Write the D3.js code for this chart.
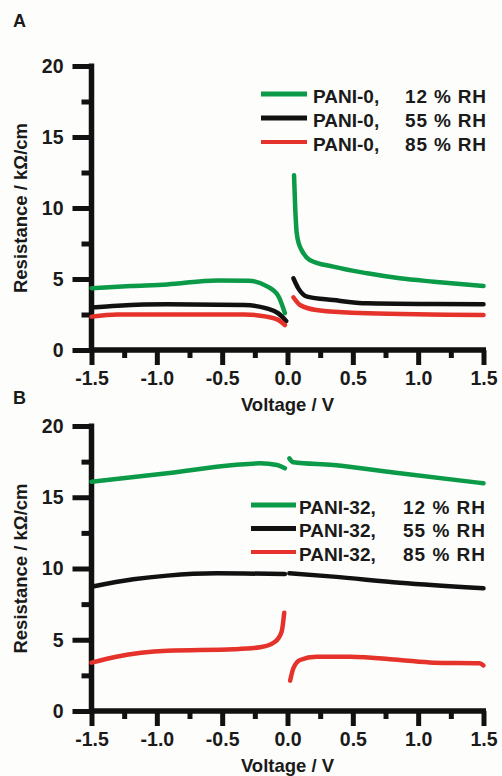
<!DOCTYPE html>
<html>
<head>
<meta charset="utf-8">
<script src="https://cdn.jsdelivr.net/npm/d3@7"></script>
<style>
  body { margin: 0; background: #fdfdfb; }
  svg { display: block; font-family: "Liberation Sans", Arial, sans-serif; }
  .tick text { font-size: 19.5px; font-weight: bold; fill: #1a1a1a; }
</style>
</head>
<body>
<svg id="chart" width="502" height="776"></svg>
<script>
// ---- data (voltage in V, resistance in kOhm/cm) ----
var voltageTicks = [-1.5, -1.0, -0.5, 0.0, 0.5, 1.0, 1.5];
var voltageMinor = [-1.25, -0.75, -0.25, 0.25, 0.75, 1.25];
var resistTicks = [0, 5, 10, 15, 20];
var resistMinor = [2.5, 7.5, 12.5, 17.5];

// panel A, PANI-0
var a12neg = [[-1.5,4.35],[-1.2,4.5],[-0.92,4.62],[-0.54,4.9],[-0.3,4.88],[-0.16,4.5],[-0.07,3.8],[-0.02,2.6]];
var a12pos = [[0.05,12.3],[0.06,9.8],[0.071,8.2],[0.09,7.4],[0.11,7.0],[0.17,6.34],[0.35,5.87],[0.61,5.4],[0.86,5.05],[1.12,4.81],[1.5,4.5]];
var a55neg = [[-1.5,3.0],[-1.3,3.12],[-0.92,3.22],[-0.33,3.17],[-0.16,2.93],[-0.07,2.58],[-0.01,2.04]];
var a55pos = [[0.045,5.05],[0.083,4.34],[0.15,3.76],[0.35,3.52],[0.61,3.29],[1.12,3.24],[1.5,3.22]];
var a85neg = [[-1.5,2.35],[-1.3,2.5],[-0.33,2.5],[-0.16,2.35],[-0.07,2.11],[-0.02,1.76]];
var a85pos = [[0.045,3.71],[0.096,3.17],[0.22,2.82],[0.61,2.58],[1.5,2.46]];

// panel B, PANI-32
var b12neg = [[-1.5,16.09],[-0.92,16.68],[-0.41,17.26],[-0.21,17.38],[-0.08,17.26],[-0.02,17.03]];
var b12pos = [[0.014,17.73],[0.045,17.45],[0.35,17.26],[0.86,16.68],[1.5,15.98]];
var b55neg = [[-1.5,8.72],[-1.18,9.24],[-0.92,9.5],[-0.54,9.66],[-0.02,9.61]];
var b55pos = [[0.014,9.66],[0.35,9.43],[0.86,9.0],[1.5,8.61]];
var b85neg = [[-1.5,3.39],[-1.31,3.81],[-0.92,4.23],[-0.41,4.33],[-0.21,4.47],[-0.095,4.86],[-0.045,5.56],[-0.025,6.9]];
var b85pos = [[0.02,2.13],[0.045,3.0],[0.096,3.58],[0.22,3.81],[0.48,3.81],[0.86,3.58],[1.12,3.39],[1.47,3.35],[1.5,3.2]];

var green = '#0b9a47', black = '#111111', red = '#e5322b';
var legendA = ['PANI-0,', 'PANI-0,', 'PANI-0,'];
var legendB = ['PANI-32,', 'PANI-32,', 'PANI-32,'];
var legendRH = ['12 % RH', '55 % RH', '85 % RH'];

var svg = d3.select('#chart');

var x = d3.scaleLinear().domain([-1.5, 1.5]).range([91.5, 483.5]);

function panel(letter, letterY, top, bottom, series, names, leg) {
  var y = d3.scaleLinear().domain([0, 20]).range([bottom, top]);

  svg.append('text')
    .attr('x', 13).attr('y', letterY)
    .style('font-size', '18px').style('font-weight', 'bold').style('fill', '#1a1a1a')
    .text(letter);

  // minor ticks first, then majors with labels
  svg.append('g')
    .attr('transform', `translate(0,${bottom})`)
    .call(d3.axisBottom(x).tickValues(voltageMinor).tickSize(8).tickSizeOuter(0).tickFormat(''))
    .call(g => g.select('.domain').remove());
  svg.append('g')
    .attr('transform', `translate(${x(-1.5)},0)`)
    .call(d3.axisLeft(y).tickValues(resistMinor).tickSize(10).tickSizeOuter(0).tickFormat(''))
    .call(g => g.select('.domain').remove());

  var xa = svg.append('g')
    .attr('transform', `translate(0,${bottom})`)
    .call(d3.axisBottom(x).tickValues(voltageTicks).tickSize(15).tickSizeOuter(0).tickPadding(6)
      .tickFormat(d3.format('.1f')));
  var ya = svg.append('g')
    .attr('transform', `translate(${x(-1.5)},0)`)
    .call(d3.axisLeft(y).tickValues(resistTicks).tickSize(19).tickSizeOuter(0).tickPadding(9)
      .tickFormat(d3.format('d')));

  svg.selectAll('.tick line').attr('stroke', '#111').attr('stroke-width', 5);
  svg.selectAll('.domain').attr('stroke', '#111').attr('stroke-width', 5.5);
  xa.select('.domain').attr('d', `M${x(-1.5) - 2.5},0H${x(1.5) + 2.5}`);
  ya.select('.domain').attr('d', `M0,${bottom + 2.5}V${top - 2.5}`);
  svg.selectAll('.tick text').text(function () { return this.textContent.replace('\u2212', '-'); });

  svg.append('text')
    .attr('x', x(0)).attr('y', bottom + 61)
    .attr('text-anchor', 'middle')
    .style('font-size', '18.5px').style('font-weight', 'bold').style('fill', '#1a1a1a')
    .text('Voltage / V');

  svg.append('text')
    .attr('transform', `translate(27,${(top + bottom) / 2}) rotate(-90)`)
    .attr('text-anchor', 'middle')
    .style('font-size', '18.5px').style('font-weight', 'bold').style('fill', '#1a1a1a')
    .text('Resistance / k\u03A9/cm');

  var line = d3.line()
    .x(d => x(d[0]))
    .y(d => y(d[1]))
    .curve(d3.curveMonotoneX);

  series.forEach(s => {
    svg.append('path')
      .datum(s.data)
      .attr('fill', 'none')
      .attr('stroke', s.colour)
      .attr('stroke-width', 4.5)
      .attr('stroke-linecap', 'round')
      .attr('stroke-linejoin', 'round')
      .attr('d', line);
  });

  var colours = [green, black, red];
  names.forEach((n, i) => {
    var yy = leg.y + i * leg.dy;
    svg.append('line')
      .attr('x1', leg.x1).attr('x2', leg.x2)
      .attr('y1', yy).attr('y2', yy)
      .attr('stroke', colours[i]).attr('stroke-width', i == 2 ? 4 : 5);
    var t = svg.append('text')
      .attr('y', yy + 8.5)
      .style('font-size', '19px').style('font-weight', 'bold').style('fill', '#1a1a1a');
    t.append('tspan').attr('x', leg.tx).text(n);
    t.append('tspan').attr('x', leg.rx).attr('textLength', leg.rw).text(legendRH[i]);
  });
}

panel('A', 27, 66, 350, [
  { data: a12neg, colour: green }, { data: a12pos, colour: green },
  { data: a55neg, colour: black }, { data: a55pos, colour: black },
  { data: a85neg, colour: red }, { data: a85pos, colour: red }
], legendA, { x1: 261, x2: 307, tx: 313, rx: 405, rw: 81, y: 94, dy: 24 });

panel('B', 404, 426, 711, [
  { data: b12neg, colour: green }, { data: b12pos, colour: green },
  { data: b55neg, colour: black }, { data: b55pos, colour: black },
  { data: b85neg, colour: red }, { data: b85pos, colour: red }
], legendB, { x1: 251, x2: 296, tx: 299, rx: 403, rw: 82, y: 505, dy: 23.5 });
</script>
</body>
</html>
